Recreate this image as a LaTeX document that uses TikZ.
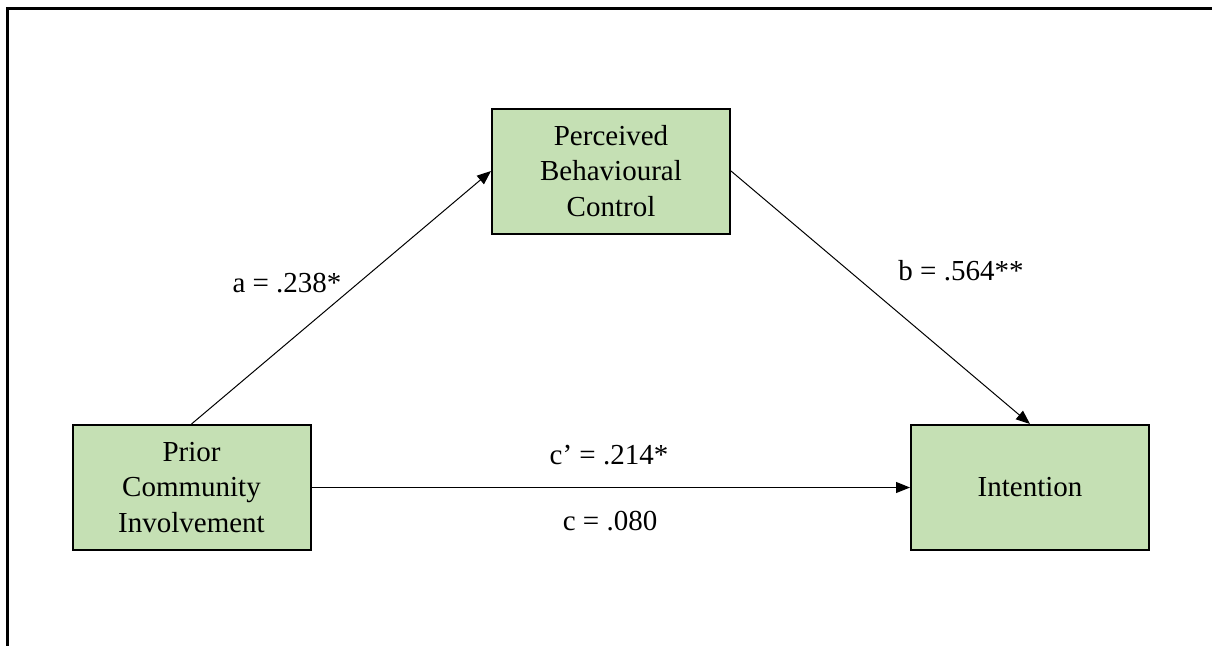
\documentclass[tikz,border=0pt]{standalone}
\usepackage{fontspec}
\setmainfont{Liberation Serif}
\usetikzlibrary{arrows.meta}
\definecolor{boxgreen}{RGB}{197,224,180}
\tikzset{
  varbox/.style={draw=black, line width=2pt, fill=boxgreen, align=center, inner sep=0pt, minimum width=238pt, minimum height=125pt, font=\fontsize{29}{35.5}\selectfont},
  path/.style={line width=1pt, -{Triangle[length=14pt,width=11pt]}},
  lbl/.style={font=\fontsize{29}{35.5}\selectfont, inner sep=0pt}
}
\begin{document}
\begin{tikzpicture}[x=1pt,y=-1pt]
\useasboundingbox (0,0) rectangle (1212,646);
\coordinate (tl) at (7,8);
\coordinate (tr) at (1212,8);
\coordinate (bl) at (7,646);
\draw[line width=3pt] (tr) -- (tl) -- (bl);
\node[varbox] (pbc) at (611,171) {Perceived\\Behavioural\\Control};
\node[varbox] (pci) at (191.5,487.5) {Prior\\Community\\Involvement};
\node[varbox] (int) at (1030,487.5) {Intention};
\draw[path] (pci.north) -- (pbc.west);
\draw[path] (pbc.east) -- (int.north);
\draw[path] (pci.east) -- (int.west);
\node[lbl] (la) at (287,283) {a = .238*};
\node[lbl] (lb) at (961,271) {b = .564**};
\node[lbl] (lc1) at (609,455) {c’ = .214*};
\node[lbl] (lc2) at (610,521) {c = .080};
\end{tikzpicture}
\end{document}
